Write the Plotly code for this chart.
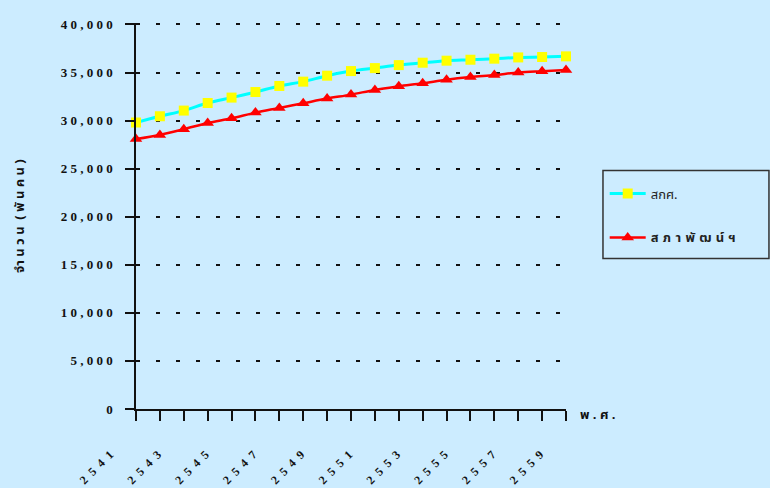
import plotly.graph_objects as go

# ---- data ----
years = [2541, 2542, 2543, 2544, 2545, 2546, 2547, 2548, 2549, 2550,
         2551, 2552, 2553, 2554, 2555, 2556, 2557, 2558, 2559]
onec = [29800, 30450, 31040, 31830, 32390, 32970, 33600, 34050, 34670, 35150,
        35460, 35770, 36020, 36230, 36330, 36440, 36570, 36610, 36680]
nesdb = [28090, 28510, 29100, 29750, 30240, 30830, 31310, 31800, 32290, 32700,
         33190, 33560, 33880, 34250, 34530, 34740, 35000, 35140, 35260]
x_tick_text = ["2\u20025\u20024\u20021", "", "2\u20025\u20024\u20023", "", "2\u20025\u20024\u20025", "",
               "2\u20025\u20024\u20027", "", "2\u20025\u20024\u20029", "", "2\u20025\u20025\u20021", "",
               "2\u20025\u20025\u20023", "", "2\u20025\u20025\u20025", "", "2\u20025\u20025\u20027", "",
               "2\u20025\u20025\u20029"]
y_tick_vals = [0, 5000, 10000, 15000, 20000, 25000, 30000, 35000, 40000]
y_tick_text = ["0", "5 , 0 0 0", "1 0 , 0 0 0", "1 5 , 0 0 0", "2 0 , 0 0 0",
               "2 5 , 0 0 0", "3 0 , 0 0 0", "3 5 , 0 0 0", "4 0 , 0 0 0"]
name_onec = "สกศ."
name_nesdb = "<b>ส\u2004ภ\u2004า\u2004พั\u2004ฒ\u2004น์\u2004ฯ</b>"
y_title = "<b>จำ น ว น  ( พั น ค น )</b>"
x_unit = "<b>พ . ศ .</b>"

BG = "#CCECFF"
SERIF = "Liberation Serif, Times New Roman, serif"
THAI = "Noto Sans Thai, Tahoma, DejaVu Sans, sans-serif"

fig = go.Figure()
fig.add_trace(go.Scatter(
    x=years, y=onec, name=name_onec, mode="lines+markers",
    line=dict(color="#00FFFF", width=3, shape="spline"),
    marker=dict(symbol="square", size=10, color="#FFFF00"),
    cliponaxis=False, legendgroup="a"))
fig.add_trace(go.Scatter(
    x=years, y=nesdb, name=name_nesdb, mode="lines+markers",
    line=dict(color="#FF0000", width=2.5, shape="spline"),
    marker=dict(symbol="triangle-up", size=11, color="#FF0000"),
    cliponaxis=False, legendgroup="b"))

fig.update_layout(
    width=770, height=488, autosize=False,
    margin=dict(l=136, r=204, t=22.5, b=79, autoexpand=False),
    paper_bgcolor=BG, plot_bgcolor=BG,
    showlegend=True,
    legend=dict(x=1.09, y=0.597, xanchor="left", yanchor="top",
                bgcolor="rgba(0,0,0,0)", borderwidth=0, itemwidth=36,
                traceorder="grouped", tracegroupgap=24,
                font=dict(family=THAI, size=13, color="#222")),
    xaxis=dict(range=[2541, 2559], tickmode="array", tickvals=years, ticktext=x_tick_text,
               tickangle=-45, ticks="outside", ticklen=10, tickwidth=1.5, tickcolor="#111",
               showline=True, linecolor="#111", linewidth=1.5, showgrid=False, zeroline=False,
               automargin=False,
               tickfont=dict(family=SERIF, size=12, color="#111", weight="bold"),
               ticklabelshift=-26, ticklabelstandoff=22),
    yaxis=dict(range=[0, 40150], tickmode="array", tickvals=y_tick_vals, ticktext=y_tick_text,
               ticks="outside", ticklen=9, tickwidth=1.5, tickcolor="#111",
               showline=True, linecolor="#111", linewidth=1.5,
               showgrid=True, gridcolor="#111", gridwidth=1.5, griddash="4px,16px",
               zeroline=False, ticklabelstandoff=10, automargin=False,
               tickfont=dict(family=SERIF, size=13, color="#111", weight="bold")),
    shapes=[dict(type="rect", xref="paper", yref="paper",
                 x0=1.086, x1=1.472, y0=0.3896, y1=0.618,
                 line=dict(color="#333", width=1.5), fillcolor="rgba(0,0,0,0)")],
    annotations=[
        dict(text=y_title, textangle=-90, xref="paper", yref="paper", x=0, y=0.5,
             xshift=-116, xanchor="center", yanchor="middle", showarrow=False,
             font=dict(family=THAI, size=13, color="#111")),
        dict(text=x_unit, xref="paper", yref="paper", x=1, y=0, xshift=12, yshift=-6,
             xanchor="left", yanchor="middle", showarrow=False,
             font=dict(family=THAI, size=13, color="#111")),
    ],
)

fig.write_html("out.html", config={"displayModeBar": False},
               post_script="document.body.style.margin='0';")
